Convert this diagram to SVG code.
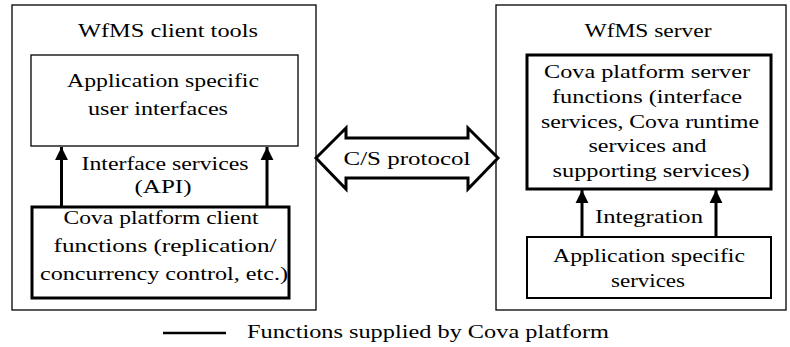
<svg xmlns="http://www.w3.org/2000/svg" width="790" height="347" viewBox="0 0 790 347">
<style>
text{font-family:"Liberation Serif","DejaVu Serif",serif;font-size:19.5px;fill:#000;text-anchor:middle}
.thin{fill:#fff;stroke:#000;stroke-width:1.3}
.thick{fill:#fff;stroke:#000;stroke-width:3}
.arr{stroke:#000;stroke-width:3;fill:none}
</style>
<defs>
<marker id="ah" viewBox="0 0 10 10" refX="10" refY="5" markerWidth="4.3" markerHeight="5" orient="auto" markerUnits="strokeWidth">
<path d="M0,0 L10,5 L0,10 z" fill="#000"/>
</marker>
</defs>
<rect width="790" height="347" fill="#fff"/>
<g id="client">
<rect class="thin" x="12" y="5" width="304" height="305"/>
<text x="168" y="37" textLength="180" lengthAdjust="spacingAndGlyphs">WfMS client tools</text>
</g>
<g id="server">
<rect class="thin" x="496" y="5" width="290" height="305"/>
<text x="648" y="37" textLength="127" lengthAdjust="spacingAndGlyphs">WfMS server</text>
</g>
<g id="app-ui">
<rect class="thin" x="31" y="55" width="267" height="91"/>
<text x="163" y="87" textLength="192" lengthAdjust="spacingAndGlyphs">Application specific</text>
<text x="158" y="115" textLength="140" lengthAdjust="spacingAndGlyphs">user interfaces</text>
</g>
<g id="client-funcs">
<rect class="thick" x="32" y="207" width="257" height="91"/>
<text x="161" y="224" textLength="195" lengthAdjust="spacingAndGlyphs">Cova platform client</text>
<text x="165" y="252" textLength="223" lengthAdjust="spacingAndGlyphs">functions (replication/</text>
<text x="164" y="280" textLength="248" lengthAdjust="spacingAndGlyphs">concurrency control, etc.)</text>
</g>
<g id="server-funcs">
<rect class="thick" x="527" y="55" width="244" height="134"/>
<text x="647" y="78" textLength="206" lengthAdjust="spacingAndGlyphs">Cova platform server</text>
<text x="647" y="103" textLength="190" lengthAdjust="spacingAndGlyphs">functions (interface</text>
<text x="650" y="128" textLength="218" lengthAdjust="spacingAndGlyphs">services, Cova runtime</text>
<text x="647.5" y="152" textLength="118" lengthAdjust="spacingAndGlyphs">services and</text>
<text x="651" y="177" textLength="197" lengthAdjust="spacingAndGlyphs">supporting services)</text>
</g>
<g id="app-services">
<rect class="thin" x="527" y="237" width="244" height="61" style="stroke-width:2"/>
<text x="649" y="262" textLength="192" lengthAdjust="spacingAndGlyphs">Application specific</text>
<text x="648" y="287" textLength="74" lengthAdjust="spacingAndGlyphs">services</text>
</g>
<g id="cs-protocol">
<path d="M316,158 L346,128 L346,138 L468,138 L468,128 L498,158 L468,189 L468,178 L346,178 L346,189 Z" fill="#fff" stroke="#000" stroke-width="3" stroke-linejoin="miter"/>
<text x="407" y="165" textLength="127" lengthAdjust="spacingAndGlyphs">C/S protocol</text>
</g>
<g id="connectors">
<line class="arr" x1="61.5" y1="207" x2="61.5" y2="147" marker-end="url(#ah)"/>
<line class="arr" x1="267" y1="207" x2="267" y2="147" marker-end="url(#ah)"/>
<line class="arr" x1="582" y1="237" x2="582" y2="190" marker-end="url(#ah)"/>
<line class="arr" x1="716" y1="237" x2="716" y2="190" marker-end="url(#ah)"/>
<text x="165" y="170" textLength="167" lengthAdjust="spacingAndGlyphs">Interface services</text>
<text x="163" y="193" textLength="57" lengthAdjust="spacingAndGlyphs">(API)</text>
<text x="649" y="223" textLength="108" lengthAdjust="spacingAndGlyphs">Integration</text>
</g>
<g id="legend">
<line x1="163" y1="333" x2="226" y2="333" stroke="#000" stroke-width="2.5"/>
<text x="247" y="338" style="text-anchor:start" textLength="362" lengthAdjust="spacingAndGlyphs">Functions supplied by Cova platform</text>
</g>
</svg>
